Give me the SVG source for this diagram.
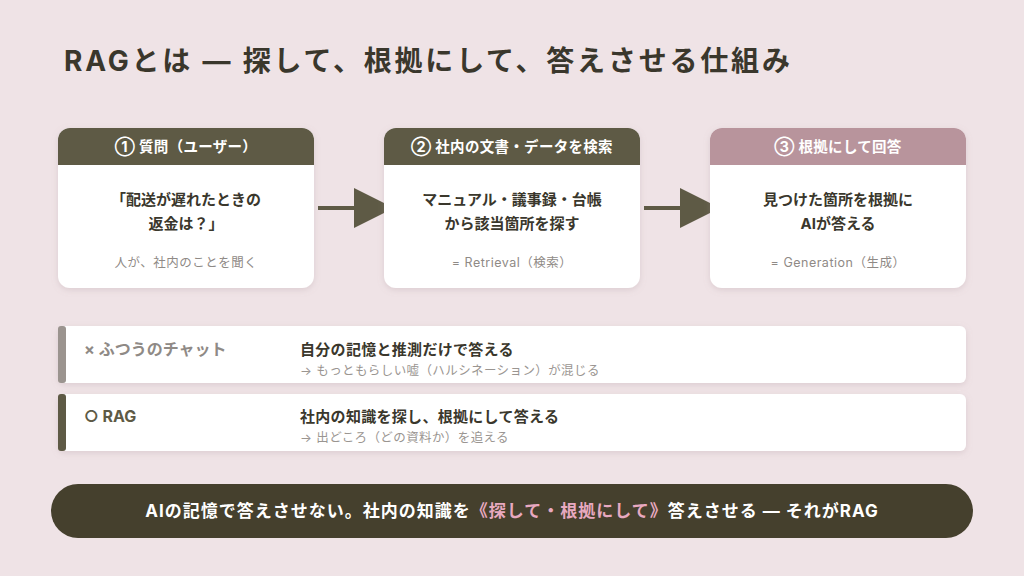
<svg xmlns="http://www.w3.org/2000/svg" width="1024" height="576" viewBox="0 0 1024 576">
<defs>
<style>
text{font-family:Inter,"Noto Sans CJK JP","Noto Sans",sans-serif}
.card{fill:#fff}
.hd{fill:#fff;font-size:14.5px;font-weight:700;text-anchor:middle;letter-spacing:0.3px}
.body{fill:#3a372c;font-size:15px;font-weight:700;text-anchor:middle}
.sub{fill:#8f8a86;font-size:12.5px;text-anchor:middle;letter-spacing:0.5px}
.rowt{fill:#3a372c;font-size:15px;font-weight:700;letter-spacing:0.3px}
.rows{fill:#9a9591;font-size:12.5px;letter-spacing:0.4px}
</style>
<filter id="sh" x="-10%" y="-10%" width="120%" height="130%"><feDropShadow dx="0" dy="2" stdDeviation="3" flood-color="#a08890" flood-opacity="0.25"/></filter>
<clipPath id="c1"><rect x="58" y="128" width="256" height="160" rx="12"/></clipPath>
<clipPath id="c2"><rect x="384" y="128" width="256" height="160" rx="12"/></clipPath>
<clipPath id="c3"><rect x="710" y="128" width="256" height="160" rx="12"/></clipPath>
</defs>
<rect width="1024" height="576" fill="#efe3e6"/>
<text x="64" y="71" font-size="28" font-weight="700" fill="#3a372c" letter-spacing="2.8">RAGとは ― 探して、根拠にして、答えさせる仕組み</text>

<g id="connectors" fill="#5e5a45">
<rect x="318" y="206" width="36" height="4"/><polygon points="354,188 394,208 354,228"/>
<rect x="644" y="206" width="36" height="4"/><polygon points="680,188 720,208 680,228"/>
</g>

<g id="n1">
<rect x="58" y="128" width="256" height="160" rx="12" class="card" filter="url(#sh)"/>
<rect x="58" y="128" width="256" height="37" fill="#5e5a45" clip-path="url(#c1)"/>
<text x="186" y="152" class="hd">① 質問（ユーザー）</text>
<text x="186" y="205" class="body">「配送が遅れたときの</text>
<text x="186" y="229" class="body">返金は？」</text>
<text x="186" y="267" class="sub">人が、社内のことを聞く</text>
</g>
<g id="n2">
<rect x="384" y="128" width="256" height="160" rx="12" class="card" filter="url(#sh)"/>
<rect x="384" y="128" width="256" height="37" fill="#5e5a45" clip-path="url(#c2)"/>
<text x="512" y="152" class="hd">② 社内の文書・データを検索</text>
<text x="512" y="205" class="body">マニュアル・議事録・台帳</text>
<text x="512" y="229" class="body">から該当箇所を探す</text>
<text x="512" y="267" class="sub">= Retrieval（検索）</text>
</g>
<g id="n3">
<rect x="710" y="128" width="256" height="160" rx="12" class="card" filter="url(#sh)"/>
<rect x="710" y="128" width="256" height="37" fill="#b8949c" clip-path="url(#c3)"/>
<text x="838" y="152" class="hd">③ 根拠にして回答</text>
<text x="838" y="205" class="body">見つけた箇所を根拠に</text>
<text x="838" y="229" class="body">AIが答える</text>
<text x="838" y="267" class="sub">= Generation（生成）</text>
</g>

<g id="row1">
<rect x="58" y="326" width="908" height="57" rx="6" class="card" filter="url(#sh)"/>
<rect x="58" y="326" width="8" height="57" rx="3" fill="#9b948f"/>
<text x="84" y="355" font-size="16" font-weight="700" fill="#8f8a86">× ふつうのチャット</text>
<text x="300" y="355" class="rowt">自分の記憶と推測だけで答える</text>
<text x="300" y="375" class="rows">→ もっともらしい嘘（ハルシネーション）が混じる</text>
</g>
<g id="row2">
<rect x="58" y="394" width="908" height="57" rx="6" class="card" filter="url(#sh)"/>
<rect x="58" y="394" width="8" height="57" rx="3" fill="#5e5a45"/>
<text x="84" y="422" font-size="16" font-weight="700" fill="#5e5a45">○ RAG</text>
<text x="300" y="422" class="rowt">社内の知識を探し、根拠にして答える</text>
<text x="300" y="442" class="rows">→ 出どころ（どの資料か）を追える</text>
</g>

<g id="banner">
<rect x="51" y="484" width="922" height="54" rx="27" fill="#45402d"/>
<text x="512" y="517" font-size="17" font-weight="700" fill="#fff" text-anchor="middle" letter-spacing="1">AIの記憶で答えさせない。社内の知識を<tspan fill="#e8a9c0">《探して・根拠にして》</tspan>答えさせる ― それがRAG</text>
</g>
</svg>
